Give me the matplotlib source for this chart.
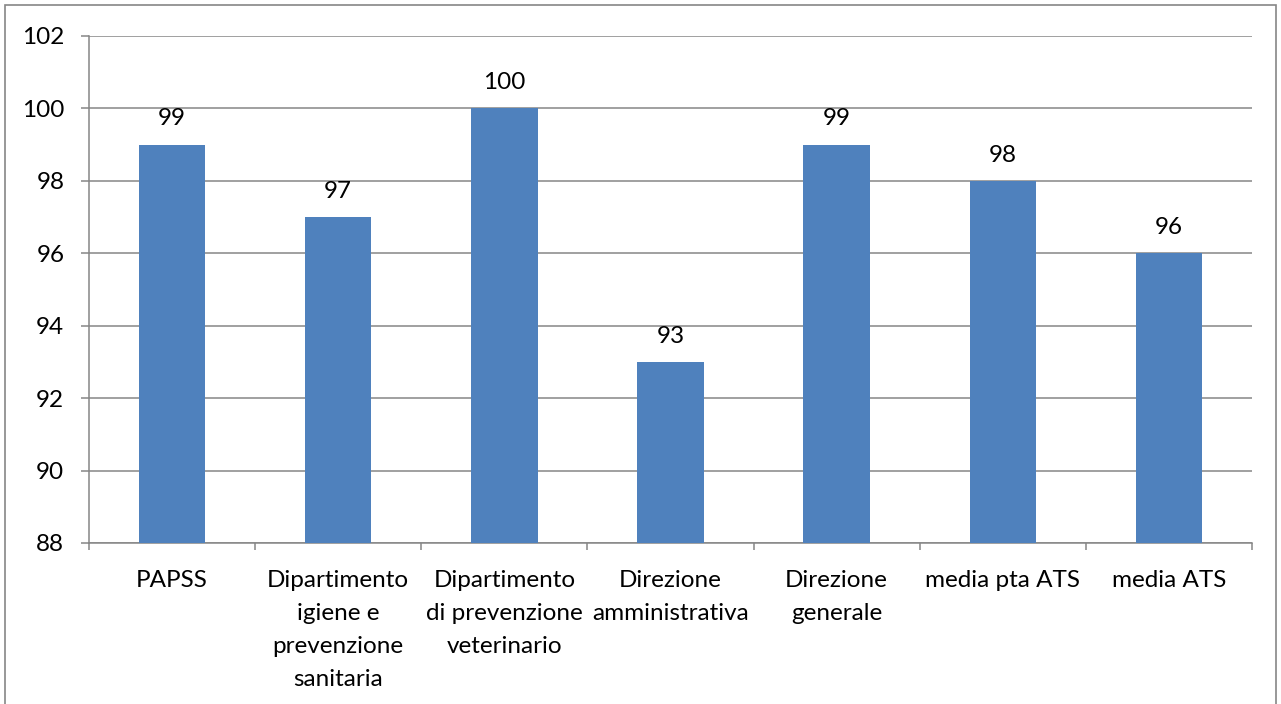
import matplotlib
matplotlib.use("Agg")
import matplotlib.pyplot as plt
from matplotlib.patches import Rectangle

categories = ["PAPSS", "Dipartimento\nigiene e\nprevenzione\nsanitaria",
              "Dipartimento\ndi prevenzione\nveterinario", "Direzione\namministrativa",
              "Direzione\ngenerale", "media pta ATS", "media ATS"]
values = [99, 97, 100, 93, 99, 98, 96]
yticks = [88, 90, 92, 94, 96, 98, 100, 102]

plt.rcParams['font.family'] = ['Lato', 'DejaVu Sans']
FS = 17.5
fig = plt.figure(figsize=(12.81, 7.04), dpi=100)
ax = fig.add_axes([89/1281, 1 - 543/704, (1252-89)/1281, (543-36)/704])

grid_c = "#868686"
x = list(range(len(categories)))
ax.bar(x, values, width=0.40, color="#4F81BD", zorder=3)
ax.set_ylim(88, 102)
ax.set_xlim(-0.5, len(categories) - 0.5)
ax.set_yticks(yticks)
ax.set_yticklabels([str(t) for t in yticks], fontsize=FS)
ax.yaxis.grid(True, color=grid_c, linewidth=1.1, zorder=0)
ax.set_xticks([i - 0.5 for i in range(len(categories) + 1)], minor=False)
ax.set_xticklabels([])
ax.set_xticks(x, minor=True)
ax.set_xticklabels(categories, minor=True, fontsize=FS, linespacing=1.7, va="top")
ax.tick_params(axis='x', which='minor', length=0, pad=19.5)
ax.tick_params(axis='x', which='major', length=5, color=grid_c, width=1.1)
ax.tick_params(axis='y', length=5.8, color=grid_c, width=1.1, pad=12)
for s in ["top", "right"]:
    ax.spines[s].set_visible(False)
for s in ["left", "bottom"]:
    ax.spines[s].set_color(grid_c)
    ax.spines[s].set_linewidth(1.1)

for xi, v in zip(x, values):
    ax.annotate(str(v), (xi, v), xytext=(0, 11), textcoords="offset points",
                ha="center", va="bottom", fontsize=FS)

fig.patches.append(Rectangle((5/1281, -0.01), (1276-5)/1281, 1 - 5/704 + 0.01,
                             transform=fig.transFigure, fill=False,
                             edgecolor="#868686", linewidth=1.2))
fig.savefig("out.png", dpi=100)
